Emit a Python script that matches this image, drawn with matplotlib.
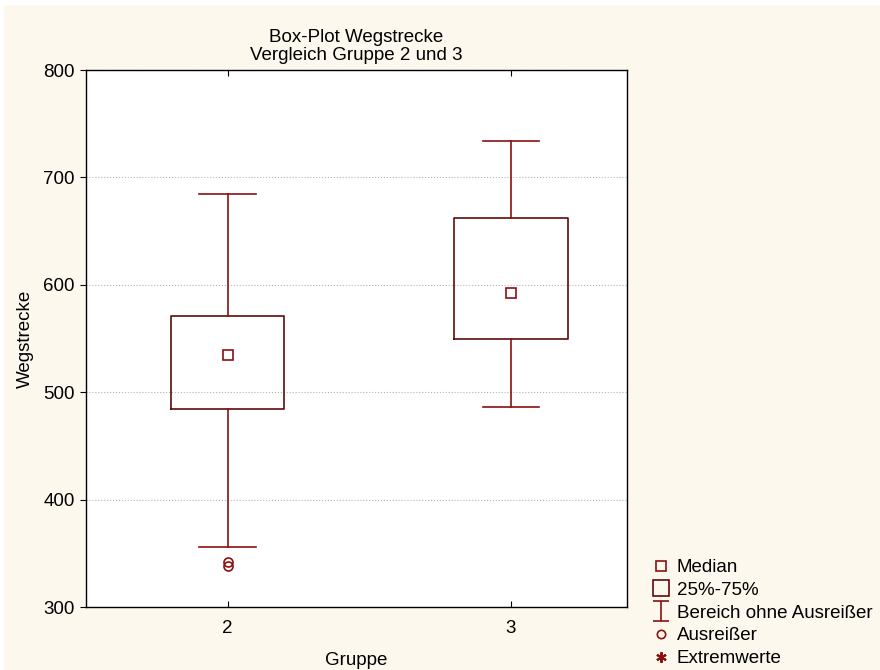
import matplotlib
matplotlib.use('Agg')
import matplotlib.pyplot as plt
from matplotlib.lines import Line2D
from matplotlib.path import Path
from matplotlib.patches import Rectangle

plt.rcParams['font.family'] = ['Liberation Sans', 'DejaVu Sans']

# Kennwerte je Gruppe
gruppen = ['2', '3']
positionen = [2, 3]
median = [535, 592]
q1 = [484, 550]
q3 = [571, 662]
whisker_lo = [356, 486]
whisker_hi = [685, 734]
ausreisser = [[342, 338], []]

rot = '#8b1010'
box_rot = '#5e0a0a'
hinter = '#fdf8ed'
fs = 13.5

stats = []
for i in range(len(gruppen)):
    stats.append({'med': median[i], 'q1': q1[i], 'q3': q3[i],
                  'whislo': whisker_lo[i], 'whishi': whisker_hi[i],
                  'fliers': ausreisser[i], 'label': gruppen[i]})

fig = plt.figure(figsize=(8.8, 6.7), dpi=100, facecolor='white')
fig.patches.append(Rectangle((0.004, 0.0), 0.996, 0.992, transform=fig.transFigure,
                             facecolor=hinter, edgecolor='none', zorder=-10))
ax = fig.add_axes([0.0977, 0.094, 0.6148, 0.8015])
ax.set_facecolor('white')

ax.bxp(stats, positions=positionen, widths=0.4, showfliers=True,
       boxprops=dict(color=box_rot, linewidth=1.2),
       whiskerprops=dict(color=rot, linewidth=1.2),
       capprops=dict(color=rot, linewidth=1.2),
       medianprops=dict(linewidth=0),
       flierprops=dict(marker='o', markerfacecolor='none', markeredgecolor=rot,
                       markersize=6.5, markeredgewidth=1.2),
       capwidths=0.2)
ax.plot(positionen, median, linestyle='none', marker='s', markersize=7.5,
        markerfacecolor='none', markeredgecolor=rot, markeredgewidth=1.2, zorder=5)

ax.set_xlim(1.5, 3.41)
ax.set_ylim(300, 800)
ax.set_yticks([300, 400, 500, 600, 700, 800])
ax.set_xticks(positionen)
ax.set_xticklabels(gruppen)
ax.yaxis.grid(True, linestyle=':', color='#b5b5b5', linewidth=0.8)
ax.set_axisbelow(True)
ax.tick_params(axis='x', direction='in', top=True, labelsize=fs, length=4, pad=9)
ax.tick_params(axis='y', direction='out', labelsize=fs, length=4, pad=4)
for s in ax.spines.values():
    s.set_linewidth(1.0)

ax.set_title('Box-Plot Wegstrecke\nVergleich Gruppe 2 und 3', fontsize=fs, pad=7,
             linespacing=1.1)
ax.set_xlabel('Gruppe', fontsize=fs, labelpad=11)
ax.set_ylabel('Wegstrecke', fontsize=fs, labelpad=7)

whisker_marker = Path([(-0.75, 1), (0.75, 1), (0, 1), (0, -1), (-0.75, -1), (0.75, -1)],
                      [Path.MOVETO, Path.LINETO, Path.MOVETO, Path.LINETO,
                       Path.MOVETO, Path.LINETO])
handles = [
    Line2D([], [], linestyle='none', marker='s', markersize=6.5, markerfacecolor='none',
           markeredgecolor=rot, markeredgewidth=1.2),
    Line2D([], [], linestyle='none', marker='s', markersize=11, markerfacecolor='none',
           markeredgecolor=box_rot, markeredgewidth=1.2),
    Line2D([], [], linestyle='none', marker=whisker_marker, markersize=14.5,
           markerfacecolor='none', markeredgecolor=rot, markeredgewidth=1.2),
    Line2D([], [], linestyle='none', marker='o', markersize=6, markerfacecolor='none',
           markeredgecolor=rot, markeredgewidth=1.2),
    Line2D([], [], linestyle='none', marker=(6, 2, 0), markersize=7.5,
           markeredgecolor=rot, markeredgewidth=1.5),
]
labels = ['Median', '25%-75%', 'Bereich ohne Ausreißer', 'Ausreißer', 'Extremwerte']
fig.legend(handles, labels, loc='lower left', bbox_to_anchor=(0.739, 0.0),
           frameon=False, fontsize=fs, handlelength=0.8, handletextpad=0.45,
           labelspacing=0.3, borderpad=0.15, borderaxespad=0.0)

fig.savefig('out.png', dpi=100, facecolor='white')
